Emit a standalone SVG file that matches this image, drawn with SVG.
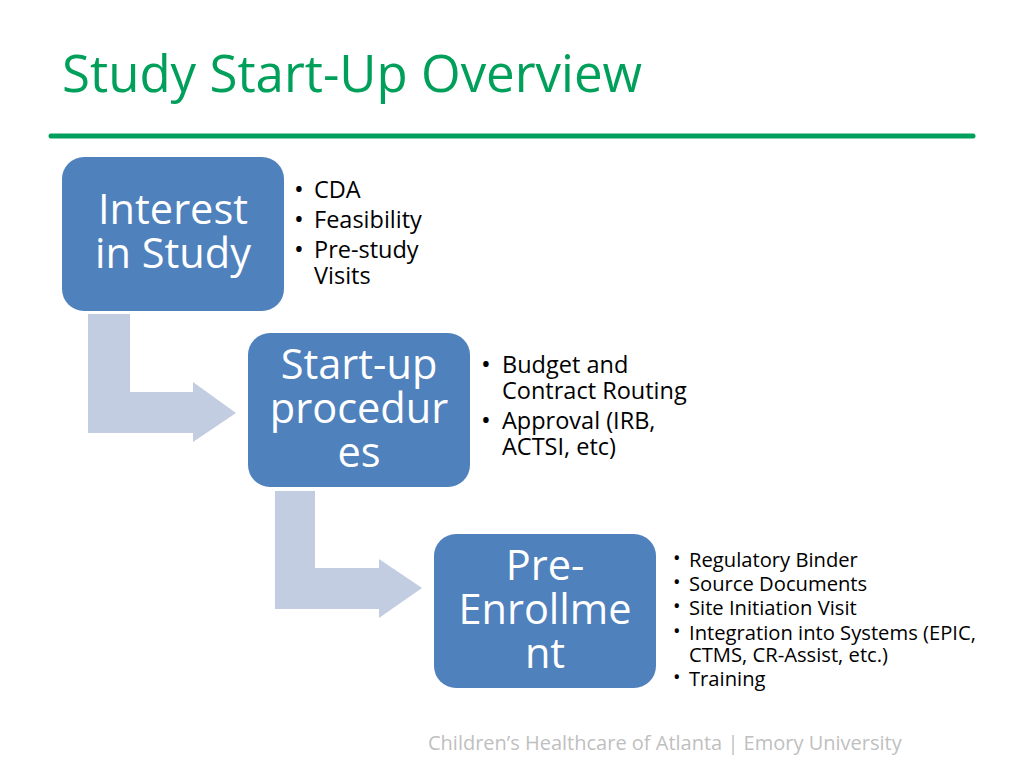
<svg xmlns="http://www.w3.org/2000/svg" width="1024" height="768" viewBox="0 0 1024 768">
<style>
.title{font-family:"Open Sans","Noto Sans","DejaVu Sans",sans-serif;font-size:51px;fill:#00A05A}
.box{fill:#4F81BD}
.bt{font-family:"Open Sans","Noto Sans","DejaVu Sans",sans-serif;font-size:41.5px;fill:#FFFFFF;text-anchor:middle}
.li{font-family:"Open Sans","Noto Sans","DejaVu Sans",sans-serif;font-size:23.5px;fill:#000000}
.ls{font-family:"Open Sans","Noto Sans","DejaVu Sans",sans-serif;font-size:20.2px;fill:#000000}
.dot{font-family:"Open Sans","Noto Sans","DejaVu Sans",sans-serif;fill:#000000}
.arrow{fill:#C3CDE2}
.foot{font-family:"Open Sans","Noto Sans","DejaVu Sans",sans-serif;font-size:20px;fill:#BFBFBF}
</style>
<rect width="1024" height="768" fill="#FFFFFF"/>
<text class="title" x="62" y="92">Study Start-Up Overview</text>
<line x1="51" y1="136" x2="973" y2="136" stroke="#00A05A" stroke-width="5" stroke-linecap="round"/>
<g id="connectors">
<polygon class="arrow" points="88,314 130,314 130,392 193,392 193,382 236,413 193,442 193,433 88,433"/>
<polygon class="arrow" points="275,491 315,491 315,568 379,568 379,559 422,588 379,618 379,609 275,609"/>
</g>
<g id="node1">
<rect class="box" x="62" y="157" width="222" height="154" rx="22"/>
<text class="bt"><tspan x="173" y="224">Interest</tspan><tspan x="173" y="268">in Study</tspan></text>
</g>
<g id="list1">
<text class="dot" font-size="26" x="294" y="198">•</text><text class="li" x="314" y="198">CDA</text>
<text class="dot" font-size="26" x="294" y="228">•</text><text class="li" x="314" y="228">Feasibility</text>
<text class="dot" font-size="26" x="294" y="258">•</text><text class="li"><tspan x="314" y="258">Pre-study</tspan><tspan x="314" y="284">Visits</tspan></text>
</g>
<g id="node2">
<rect class="box" x="248" y="333" width="222" height="154" rx="22"/>
<text class="bt"><tspan x="359" y="379">Start-up</tspan><tspan x="359" y="423">procedur</tspan><tspan x="359" y="467">es</tspan></text>
</g>
<g id="list2">
<text class="dot" font-size="26" x="481" y="373">•</text><text class="li"><tspan x="502" y="373">Budget and</tspan><tspan x="502" y="399">Contract Routing</tspan></text>
<text class="dot" font-size="26" x="481" y="429">•</text><text class="li"><tspan x="502" y="429">Approval (IRB,</tspan><tspan x="502" y="455">ACTSI, etc)</tspan></text>
</g>
<g id="node3">
<rect class="box" x="434" y="534" width="222" height="154" rx="22"/>
<text class="bt"><tspan x="545" y="580">Pre-</tspan><tspan x="545" y="624">Enrollme</tspan><tspan x="545" y="668">nt</tspan></text>
</g>
<g id="list3">
<text class="dot" font-size="20" x="673" y="565">•</text><text class="ls" x="689" y="567">Regulatory Binder</text>
<text class="dot" font-size="20" x="673" y="589">•</text><text class="ls" x="689" y="591">Source Documents</text>
<text class="dot" font-size="20" x="673" y="613">•</text><text class="ls" x="689" y="615">Site Initiation Visit</text>
<text class="dot" font-size="20" x="673" y="638">•</text><text class="ls"><tspan x="689" y="640">Integration into Systems (EPIC,</tspan><tspan x="689" y="662">CTMS, CR-Assist, etc.)</tspan></text>
<text class="dot" font-size="20" x="673" y="684">•</text><text class="ls" x="689" y="686">Training</text>
</g>
<text class="foot" x="428" y="750">Children’s Healthcare of Atlanta | Emory University</text>
</svg>
